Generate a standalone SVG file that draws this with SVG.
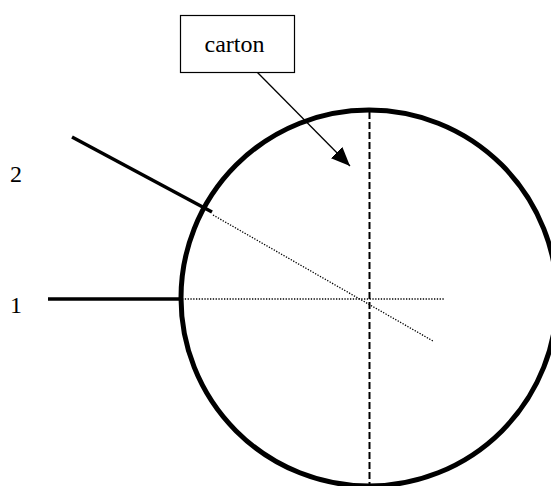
<svg xmlns="http://www.w3.org/2000/svg" width="551" height="486" viewBox="0 0 551 486">
<defs>
<style>
.t{font-family:"Liberation Serif","Times New Roman",serif;font-size:24px;fill:#000}
.dot{stroke:#000;stroke-width:1.3;stroke-dasharray:1.3 1.5;fill:none}
.thick{stroke:#000;stroke-width:3.5;fill:none}
</style>
<marker id="ah" markerWidth="20" markerHeight="16" refX="19" refY="8" orient="auto" markerUnits="userSpaceOnUse">
<path d="M0,0 L19,8 L0,16 Z" fill="#000"/>
</marker>
</defs>
<rect width="551" height="486" fill="#fff"/>
<g id="circle">
<circle cx="369" cy="298" r="188" fill="none" stroke="#000" stroke-width="5"/>
</g>
<g id="axis">
<line x1="369.5" y1="112" x2="369.5" y2="486" stroke="#000" stroke-width="2" stroke-dasharray="7 3"/>
</g>
<g id="connectors">
<line class="dot" x1="182" y1="299" x2="444" y2="299"/>
<line class="dot" x1="213" y1="215" x2="433" y2="341"/>
<line class="thick" x1="48" y1="299" x2="181" y2="299"/>
<line class="thick" x1="72" y1="137" x2="212" y2="212"/>
<line x1="257" y1="72" x2="350" y2="166" stroke="#000" stroke-width="1.3" marker-end="url(#ah)"/>
</g>
<g id="carton">
<rect x="180.5" y="15.5" width="114" height="57" fill="#fff" stroke="#000" stroke-width="1.2"/>
<text class="t" x="234.5" y="52" text-anchor="middle">carton</text>
</g>
<g id="label2"><text class="t" x="10" y="182">2</text></g>
<g id="label1"><text class="t" x="10" y="313">1</text></g>
</svg>
